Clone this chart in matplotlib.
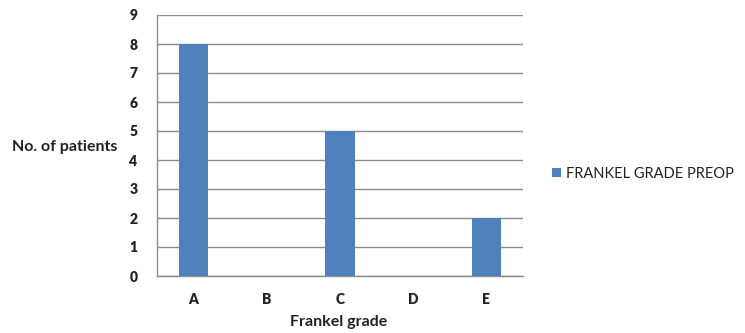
import matplotlib.pyplot as plt

# Frankel grade counts before surgery
grades = ["A", "B", "C", "D", "E"]
patients = [8, 0, 5, 0, 2]
series_name = "FRANKEL GRADE PREOP"

plt.rcParams["font.family"] = ["Lato", "DejaVu Sans"]

fig = plt.figure(figsize=(7.45, 3.33), dpi=100)
ax = fig.add_axes([157 / 745, 1 - 276 / 333, (523 - 157) / 745, (276 - 15) / 333])

x = range(len(grades))
ax.bar(x, patients, width=0.4, color="#4F81BD", label=series_name, zorder=3)

ax.set_xlim(-0.5, len(grades) - 0.5)
ax.set_ylim(0, 9)
ax.set_yticks(range(0, 10))
ax.set_xticks(list(x))
ax.set_xticklabels(grades)

ax.yaxis.grid(True, color="#8c8c8c", linewidth=1.0, zorder=0)
for side in ["top", "right"]:
    ax.spines[side].set_visible(False)
for side in ["left", "bottom"]:
    ax.spines[side].set_color("#8c8c8c")
    ax.spines[side].set_linewidth(1.0)

ax.tick_params(axis="both", length=0, labelsize=10, colors="#222222")
ax.tick_params(axis="y", pad=14)
ax.tick_params(axis="x", pad=12)
for lbl in ax.get_xticklabels() + ax.get_yticklabels():
    lbl.set_fontweight("heavy")

fig.text(12 / 745, 1 - 147 / 333, "No. of patients", fontsize=11.5, fontweight="bold",
         ha="left", va="center", color="#222222")
fig.text(339 / 745, 1 - 322 / 333, "Frankel grade", fontsize=11.5, fontweight="bold",
         ha="center", va="center", color="#222222")

fig.legend(loc="center left", bbox_to_anchor=(552 / 745, 1 - 174 / 333), frameon=False,
           fontsize=10.5, handlelength=0.6, handleheight=0.6, handletextpad=0.35,
           borderpad=0, borderaxespad=0, labelcolor="#222222")

fig.savefig("out.png", dpi=100)
